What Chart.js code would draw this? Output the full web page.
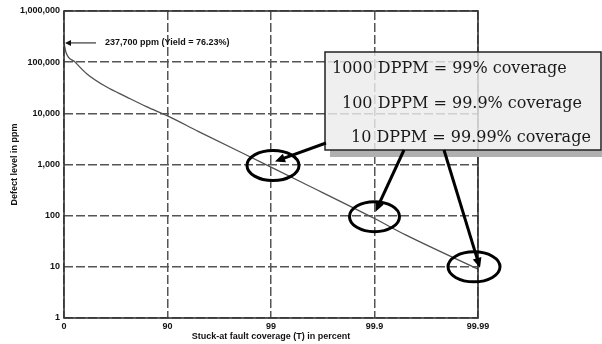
<!DOCTYPE html>
<html>
<head>
<meta charset="utf-8">
<script src="https://cdn.jsdelivr.net/npm/chart.js@4.4.0/dist/chart.umd.min.js"></script>
<style>
    html, body { margin: 0; padding: 0; background: #fff; overflow: hidden; }
    #wrap { width: 602px; height: 344px; }
</style>
</head>
<body>
<div id="wrap"><canvas id="chart" width="602" height="344"></canvas></div>
<script>
// Stuck-at fault coverage (%) and defect level (ppm)
const coverage = [0, 4, 22, 40, 61, 75, 84, 90, 95, 99, 99.5, 99.9, 99.95, 99.99];
const defectPpm = [237700, 158000, 100000, 59000, 33000, 21000, 13500, 8900, 4400, 890, 445, 88, 42, 9];

const coverageTicks = ['0', '90', '99', '99.9', '99.99'];
const ppmTicks = [1, 10, 100, 1000, 10000, 100000, 1000000];

const startNote = '237,700 ppm (Yield = 76.23%)';
const calloutLines = [
    '1000 DPPM = 99% coverage',
    '100 DPPM = 99.9% coverage',
    '10 DPPM = 99.99% coverage'
];
const circledCoverage = [99, 99.9, 99.99];
const circledPpm = [1000, 100, 10];

// x axis is spaced by decades of escaped faults: 0 -> 0, 90 -> 1, 99 -> 2 ...
const toPos = c => 2 - Math.log10(100 - c);

const INK = '#111';
const GRID = '#555';

function arrow(ctx, x1, y1, x2, y2, head, half) {
    const a = Math.atan2(y2 - y1, x2 - x1);
    ctx.beginPath();
    ctx.moveTo(x1, y1);
    ctx.lineTo(x2 - Math.cos(a) * head * 0.6, y2 - Math.sin(a) * head * 0.6);
    ctx.stroke();
    ctx.beginPath();
    ctx.moveTo(x2, y2);
    ctx.lineTo(x2 - Math.cos(a) * head + Math.sin(a) * half, y2 - Math.sin(a) * head - Math.cos(a) * half);
    ctx.lineTo(x2 - Math.cos(a) * head - Math.sin(a) * half, y2 - Math.sin(a) * head + Math.cos(a) * half);
    ctx.closePath();
    ctx.fill();
}

const notesPlugin = {
    id: 'notes',
    afterDraw(chart) {
        const { ctx, chartArea: area, scales } = chart;
        const xs = scales.x, ys = scales.y;
        ctx.save();

        // solid frame round the plot
        ctx.strokeStyle = '#333';
        ctx.lineWidth = 1.6;
        ctx.strokeRect(area.left, area.top, area.right - area.left, area.bottom - area.top);

        // start point note
        const sx = xs.getPixelForValue(toPos(coverage[0]));
        const sy = ys.getPixelForValue(defectPpm[0]);
        ctx.strokeStyle = INK;
        ctx.fillStyle = INK;
        ctx.lineWidth = 1;
        arrow(ctx, sx + 32, sy, sx + 1, sy, 6, 3);
        ctx.font = 'bold 9px "Liberation Sans", Arial, sans-serif';
        ctx.textAlign = 'left';
        ctx.textBaseline = 'middle';
        ctx.fillText(startNote, sx + 41, sy);

        // callout box
        const bx = area.left + 261, by = 52, bw = 602 - bx - 1, bh = 98;
        ctx.fillStyle = '#b0b0b0';
        ctx.fillRect(bx + 5, by + bh, bw + 5, 7);
        ctx.fillStyle = 'rgba(236,236,236,0.82)';
        ctx.fillRect(bx, by, bw, bh);
        ctx.strokeStyle = '#222';
        ctx.lineWidth = 1.5;
        ctx.strokeRect(bx, by, bw, bh);

        ctx.fillStyle = '#1a1a1a';
        ctx.textBaseline = 'alphabetic';
        ctx.font = '20px "DejaVu Serif", "Liberation Serif", serif';
        const size = 20 * 235 / ctx.measureText(calloutLines[0]).width;
        ctx.font = size.toFixed(1) + 'px "DejaVu Serif", "Liberation Serif", serif';
        const indents = [7, 17, 26];
        const baselines = [21, 56, 90];
        calloutLines.forEach((t, i) => ctx.fillText(t, bx + indents[i], by + baselines[i]));

        // ellipses and arrows
        ctx.strokeStyle = '#000';
        ctx.fillStyle = '#000';
        ctx.lineWidth = 3;
        const shift = [[2, 1, 26, 15], [0, 1, 25, 15], [-4, 0, 26, 15]];
        const starts = [[bx + 1, by + bh - 7], [bx + 79, by + bh], [bx + 119, by + bh]];
        const tips = [[4, -3], [1, -4], [2, 1]];
        circledCoverage.forEach((c, i) => {
            const px = xs.getPixelForValue(toPos(c));
            const py = ys.getPixelForValue(circledPpm[i]);
            ctx.beginPath();
            ctx.ellipse(px + shift[i][0], py + shift[i][1], shift[i][2], shift[i][3], 0, 0, Math.PI * 2);
            ctx.stroke();
            arrow(ctx, starts[i][0], starts[i][1], px + tips[i][0], py + tips[i][1], 10, 4.5);
        });
        ctx.restore();
    }
};

const tickFont = { family: '"Liberation Sans", Arial, sans-serif', size: 9, weight: 'bold' };

new Chart(document.getElementById('chart'), {
    type: 'line',
    data: {
        datasets: [{
            data: coverage.map((c, i) => ({ x: toPos(c), y: defectPpm[i] })),
            borderColor: '#505050',
            borderWidth: 1.3,
            pointRadius: 0,
            fill: false,
            cubicInterpolationMode: 'monotone'
        }]
    },
    options: {
        responsive: false,
        animation: false,
        devicePixelRatio: 1,
        layout: { padding: { top: 11, right: 124, left: 0, bottom: 0 } },
        plugins: { legend: { display: false }, tooltip: { enabled: false } },
        scales: {
            x: {
                type: 'linear',
                min: 0,
                max: 4,
                afterBuildTicks: s => { s.ticks = coverageTicks.map((_, i) => ({ value: i })); },
                afterFit: s => { s.height = 26; },
                ticks: {
                    color: INK,
                    font: tickFont,
                    padding: 3,
                    maxRotation: 0,
                    callback: v => coverageTicks[v]
                },
                grid: { color: GRID, lineWidth: 1.5, drawTicks: false },
                border: { display: false, dash: [9, 3] },
                title: {
                    display: true,
                    text: 'Stuck-at fault coverage (T) in percent',
                    color: INK,
                    font: tickFont,
                    padding: { top: 0, bottom: 2 }
                }
            },
            y: {
                type: 'logarithmic',
                min: 1,
                max: 1000000,
                afterBuildTicks: s => { s.ticks = ppmTicks.map(v => ({ value: v })); },
                afterFit: s => { s.width = 64; },
                ticks: {
                    color: INK,
                    font: tickFont,
                    padding: 4,
                    callback: v => Number(v).toLocaleString('en-US')
                },
                grid: { color: GRID, lineWidth: 1.5, drawTicks: false },
                border: { display: false, dash: [9, 3] },
                title: {
                    display: true,
                    text: 'Defect level in ppm',
                    color: INK,
                    font: tickFont,
                    padding: { top: 9, bottom: 0 }
                }
            }
        }
    },
    plugins: [notesPlugin]
});
</script>
</body>
</html>
